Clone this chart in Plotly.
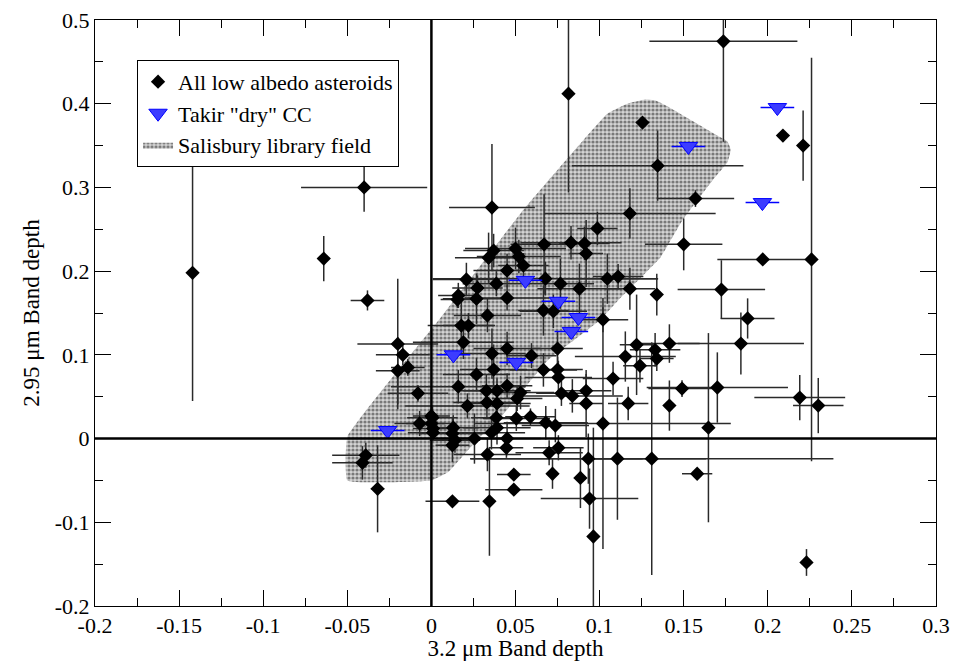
import plotly.graph_objects as go

# ---- All low albedo asteroids (3.2 um depth, 2.95 um depth, errors) ----
ast_x = [-0.142, -0.040, -0.064, -0.038, -0.020, -0.017, -0.020, -0.014, -0.008, 0.000, -0.007, 0.001, 0.001, -0.039, -0.041, -0.032, 0.0125,
         0.036, 0.0815, 0.1255, 0.1736, 0.1345, 0.157, 0.118, 0.0987, 0.150, 0.209, 0.221, 0.197, 0.226, 0.1724, 0.188, 0.184,
         0.037, 0.034, 0.050, 0.052, 0.0547, 0.067, 0.083, 0.091, 0.092, 0.045, 0.0208, 0.0386, 0.0274, 0.0268, 0.016, 0.0155, 0.045, 0.0678, 0.0767, 0.088, 0.0333, 0.0178, 0.022, 0.0666, 0.0725, 0.1046, 0.111, 0.118, 0.102, 0.134,
         0.019, 0.036, 0.045, 0.0595, 0.075, 0.0666, 0.075, 0.0755, 0.037, 0.0268, 0.016, 0.0327, 0.039, 0.045, 0.053, 0.0773, 0.0838, 0.092, 0.092, 0.108, 0.1153, 0.117, 0.102,
         0.0214, 0.033, 0.039, 0.051, 0.0386, 0.039, 0.0357, 0.0505, 0.0589, 0.068, 0.0737, 0.045, 0.0446, 0.0333, 0.0755, 0.070, 0.0933, 0.1106, 0.131, 0.0256, 0.013, 0.0125, 0.014, 0.0125, 0.0006, 0.000,
         0.049, 0.049, 0.0345, 0.072, 0.0886, 0.094, 0.0963, 0.158, 0.223,
         0.122, 0.133, 0.134, 0.124, 0.1415, 0.149, 0.170, 0.1415, 0.1647, 0.219, 0.230]
ast_y = [0.198, 0.300, 0.215, 0.165, 0.113, 0.100, 0.081, 0.085, 0.054, 0.027, 0.018, 0.012, 0.007, -0.020, -0.029, -0.060, -0.075,
         0.276, 0.412, 0.3775, 0.4745, 0.326, 0.2867, 0.269, 0.251, 0.232, 0.362, 0.350, 0.214, 0.214, 0.178, 0.1435, 0.1135,
         0.2246, 0.216, 0.227, 0.2175, 0.2067, 0.232, 0.234, 0.233, 0.221, 0.2007, 0.190, 0.185, 0.180, 0.167, 0.171, 0.166, 0.168, 0.191, 0.185, 0.179, 0.147, 0.135, 0.135, 0.153, 0.152, 0.191, 0.1935, 0.179, 0.142, 0.172,
         0.115, 0.1016, 0.1075, 0.099, 0.1075, 0.082, 0.0824, 0.073, 0.0824, 0.0765, 0.062, 0.057, 0.057, 0.063, 0.055, 0.054, 0.051, 0.057, 0.042, 0.0717, 0.098, 0.042, 0.018,
         0.039, 0.043, 0.042, 0.048, 0.025, 0.013, 0.007, 0.024, 0.026, 0.019, 0.0155, 0.000, -0.011, -0.019, -0.011, -0.017, -0.024, -0.024, -0.024, 0.000, 0.013, 0.006, -0.002, -0.008, 0.025, 0.018,
         -0.043, -0.061, -0.075, -0.042, -0.047, -0.0717, -0.117, -0.042, -0.148,
         0.112, 0.106, 0.0956, 0.087, 0.1135, 0.0597, 0.061, 0.0394, 0.013, 0.049, 0.0394]
ast_ex = [0.002, 0.0375, 0.002, 0.010, 0.024, 0.016, 0.013, 0.010, 0.018, 0.011, 0.015, 0.012, 0.015, 0.020, 0.018, 0.004, 0.016,
          0.0255, 0.003, 0.003, 0.044, 0.051, 0.023, 0.051, 0.012, 0.023, 0.003, 0.003, 0.027, 0.003, 0.026, 0.016, 0.0375,
          0.018, 0.02, 0.03, 0.025, 0.015, 0.02, 0.03, 0.015, 0.01, 0.02, 0.02, 0.02, 0.015, 0.02, 0.012, 0.01, 0.025, 0.067, 0.02, 0.025, 0.02, 0.02, 0.015, 0.015, 0.02, 0.03, 0.015, 0.015, 0.015, 0.002,
          0.03, 0.02, 0.02, 0.015, 0.015, 0.02, 0.015, 0.02, 0.02, 0.02, 0.04, 0.015, 0.02, 0.015, 0.02, 0.015, 0.03, 0.015, 0.01, 0.018, 0.03, 0.012, 0.076,
          0.037, 0.02, 0.02, 0.015, 0.015, 0.02, 0.02, 0.02, 0.015, 0.025, 0.02, 0.02, 0.01, 0.02, 0.015, 0.02, 0.07, 0.015, 0.108, 0.02, 0.015, 0.02, 0.015, 0.01, 0.015, 0.015,
          0.010, 0.017, 0.002, 0.002, 0.002, 0.029, 0.002, 0.009, 0.002,
          0.01, 0.015, 0.01, 0.01, 0.018, 0.02, 0.042, 0.002, 0.002, 0.027, 0.015]
ast_ey = [0.153, 0.029, 0.027, 0.012, 0.078, 0.012, 0.040, 0.010, 0.010, 0.010, 0.015, 0.008, 0.010, 0.015, 0.020, 0.052, 0.004,
          0.076, 0.118, 0.005, 0.12, 0.042, 0.010, 0.030, 0.02, 0.031, 0.005, 0.042, 0.004, 0.241, 0.035, 0.024, 0.037,
          0.02, 0.03, 0.025, 0.02, 0.015, 0.06, 0.02, 0.02, 0.04, 0.02, 0.02, 0.015, 0.015, 0.03, 0.015, 0.01, 0.015, 0.02, 0.03, 0.03, 0.02, 0.03, 0.015, 0.03, 0.02, 0.03, 0.015, 0.025, 0.015, 0.025,
          0.02, 0.03, 0.02, 0.015, 0.02, 0.02, 0.015, 0.02, 0.03, 0.02, 0.02, 0.02, 0.015, 0.015, 0.02, 0.015, 0.02, 0.02, 0.04, 0.02, 0.03, 0.02, 0.15,
          0.015, 0.02, 0.02, 0.015, 0.015, 0.02, 0.02, 0.015, 0.01, 0.02, 0.02, 0.02, 0.012, 0.02, 0.015, 0.015, 0.03, 0.073, 0.139, 0.03, 0.015, 0.02, 0.015, 0.02, 0.015, 0.015,
          0.004, 0.004, 0.065, 0.018, 0.036, 0.036, 0.13, 0.004, 0.016,
          0.06, 0.02, 0.015, 0.02, 0.023, 0.01, 0.042, 0.03, 0.113, 0.027, 0.033]

# ---- Takir "dry" carbonaceous chondrites ----
takir_x = [-0.026, 0.0131, 0.0505, 0.0559, 0.0755, 0.0874, 0.0832, 0.1528, 0.2057, 0.1968]
takir_y = [0.0096, 0.100, 0.091, 0.189, 0.164, 0.1446, 0.128, 0.349, 0.3954, 0.2819]
takir_ex = [0.01, 0.01, 0.01, 0.01, 0.01, 0.01, 0.01, 0.01, 0.01, 0.01]
takir_ey = [0.004, 0.004, 0.004, 0.004, 0.004, 0.004, 0.004, 0.004, 0.004, 0.004]

# ---- Salisbury library field outline ----
field_x = [-0.050, 0.000, 0.010, 0.027, 0.041, 0.069, 0.100, 0.111, 0.136, 0.149, 0.167, 0.176, 0.178,
           0.176, 0.170, 0.142, 0.133, 0.127, 0.1165, 0.1046, 0.053, 0.0065, -0.050, -0.050]
field_y = [-0.050, -0.050, -0.040, -0.002, 0.025, 0.093, 0.141, 0.165, 0.216, 0.260, 0.308, 0.330, 0.345,
           0.355, 0.362, 0.395, 0.404, 0.405, 0.400, 0.388, 0.269, 0.147, 0.002, -0.050]

x_tick_vals = [-0.2, -0.15, -0.1, -0.05, 0, 0.05, 0.1, 0.15, 0.2, 0.25, 0.3]
x_tick_text = ["-0.2", "-0.15", "-0.1", "-0.05", "0", "0.05", "0.1", "0.15", "0.2", "0.25", "0.3"]
y_tick_vals = [-0.2, -0.1, 0, 0.1, 0.2, 0.3, 0.4, 0.5]
y_tick_text = ["-0.2", "-0.1", "0", "0.1", "0.2", "0.3", "0.4", "0.5"]

FONT = "Liberation Serif"

fig = go.Figure()

fig.add_trace(go.Scatter(
    x=field_x, y=field_y, mode="lines", fill="toself",
    line=dict(width=0, color="rgba(0,0,0,0)", shape="spline", smoothing=0.3),
    fillpattern=dict(shape=".", fgcolor="#1e1e1e", bgcolor="#d4d4d4", size=4, solidity=0.5),
    name="Salisbury library field", legendrank=3, hoverinfo="skip"))

fig.add_trace(go.Scatter(
    x=ast_x, y=ast_y, mode="markers",
    marker=dict(symbol="diamond", size=11, color="black", line=dict(width=0)),
    error_x=dict(type="data", array=ast_ex, color="#2a2a2a", thickness=1.5, width=0),
    error_y=dict(type="data", array=ast_ey, color="#2a2a2a", thickness=1.5, width=0),
    name="All low albedo asteroids", legendrank=1))

fig.add_trace(go.Scatter(
    x=takir_x, y=takir_y, mode="markers",
    marker=dict(symbol="triangle-down", size=16, color="#3c3cff", line=dict(width=1, color="#0000ff")),
    error_x=dict(type="data", array=takir_ex, color="#0000ff", thickness=1.5, width=0),
    error_y=dict(type="data", array=takir_ey, color="#0000ff", thickness=1.5, width=0),
    name='Takir "dry" CC', legendrank=2))

axis_common = dict(
    showgrid=False, zeroline=False, showline=True, linecolor="black", linewidth=1,
    mirror="allticks", ticks="inside", ticklen=16, tickwidth=1, tickcolor="black",
    tickfont=dict(family=FONT, size=22, color="black"), automargin=False,
)

fig.update_xaxes(
    range=[-0.2, 0.3], tickmode="array", tickvals=x_tick_vals, ticktext=x_tick_text,
    minor=dict(ticks="inside", ticklen=8, tickcolor="black", tick0=-0.2, dtick=0.025),
    title=dict(text="3.2 μm Band depth", font=dict(family=FONT, size=23, color="black"), standoff=2),
    **axis_common)
fig.update_yaxes(
    range=[-0.2, 0.5], tickmode="array", tickvals=y_tick_vals, ticktext=y_tick_text,
    minor=dict(ticks="inside", ticklen=8, tickcolor="black", tick0=-0.2, dtick=0.05),
    title=dict(text="2.95 μm Band depth", font=dict(family=FONT, size=23, color="black"), standoff=8),
    **axis_common)

fig.add_shape(type="line", xref="x", yref="paper", x0=0, x1=0, y0=0, y1=1,
              line=dict(color="black", width=2.5), layer="above")
fig.add_shape(type="line", xref="paper", yref="y", x0=0, x1=1, y0=0, y1=0,
              line=dict(color="black", width=2.5), layer="above")

fig.update_layout(
    width=967, height=661,
    margin=dict(l=95, r=31, t=20, b=55, autoexpand=False),
    paper_bgcolor="white", plot_bgcolor="white",
    font=dict(family=FONT, size=22, color="black"),
    showlegend=True,
    legend=dict(x=0.05, y=0.932, xanchor="left", yanchor="top",
                bgcolor="white", bordercolor="black", borderwidth=1,
                font=dict(family=FONT, size=22, color="black"),
                tracegroupgap=0, itemwidth=30),
)

fig.write_html("out.html")
